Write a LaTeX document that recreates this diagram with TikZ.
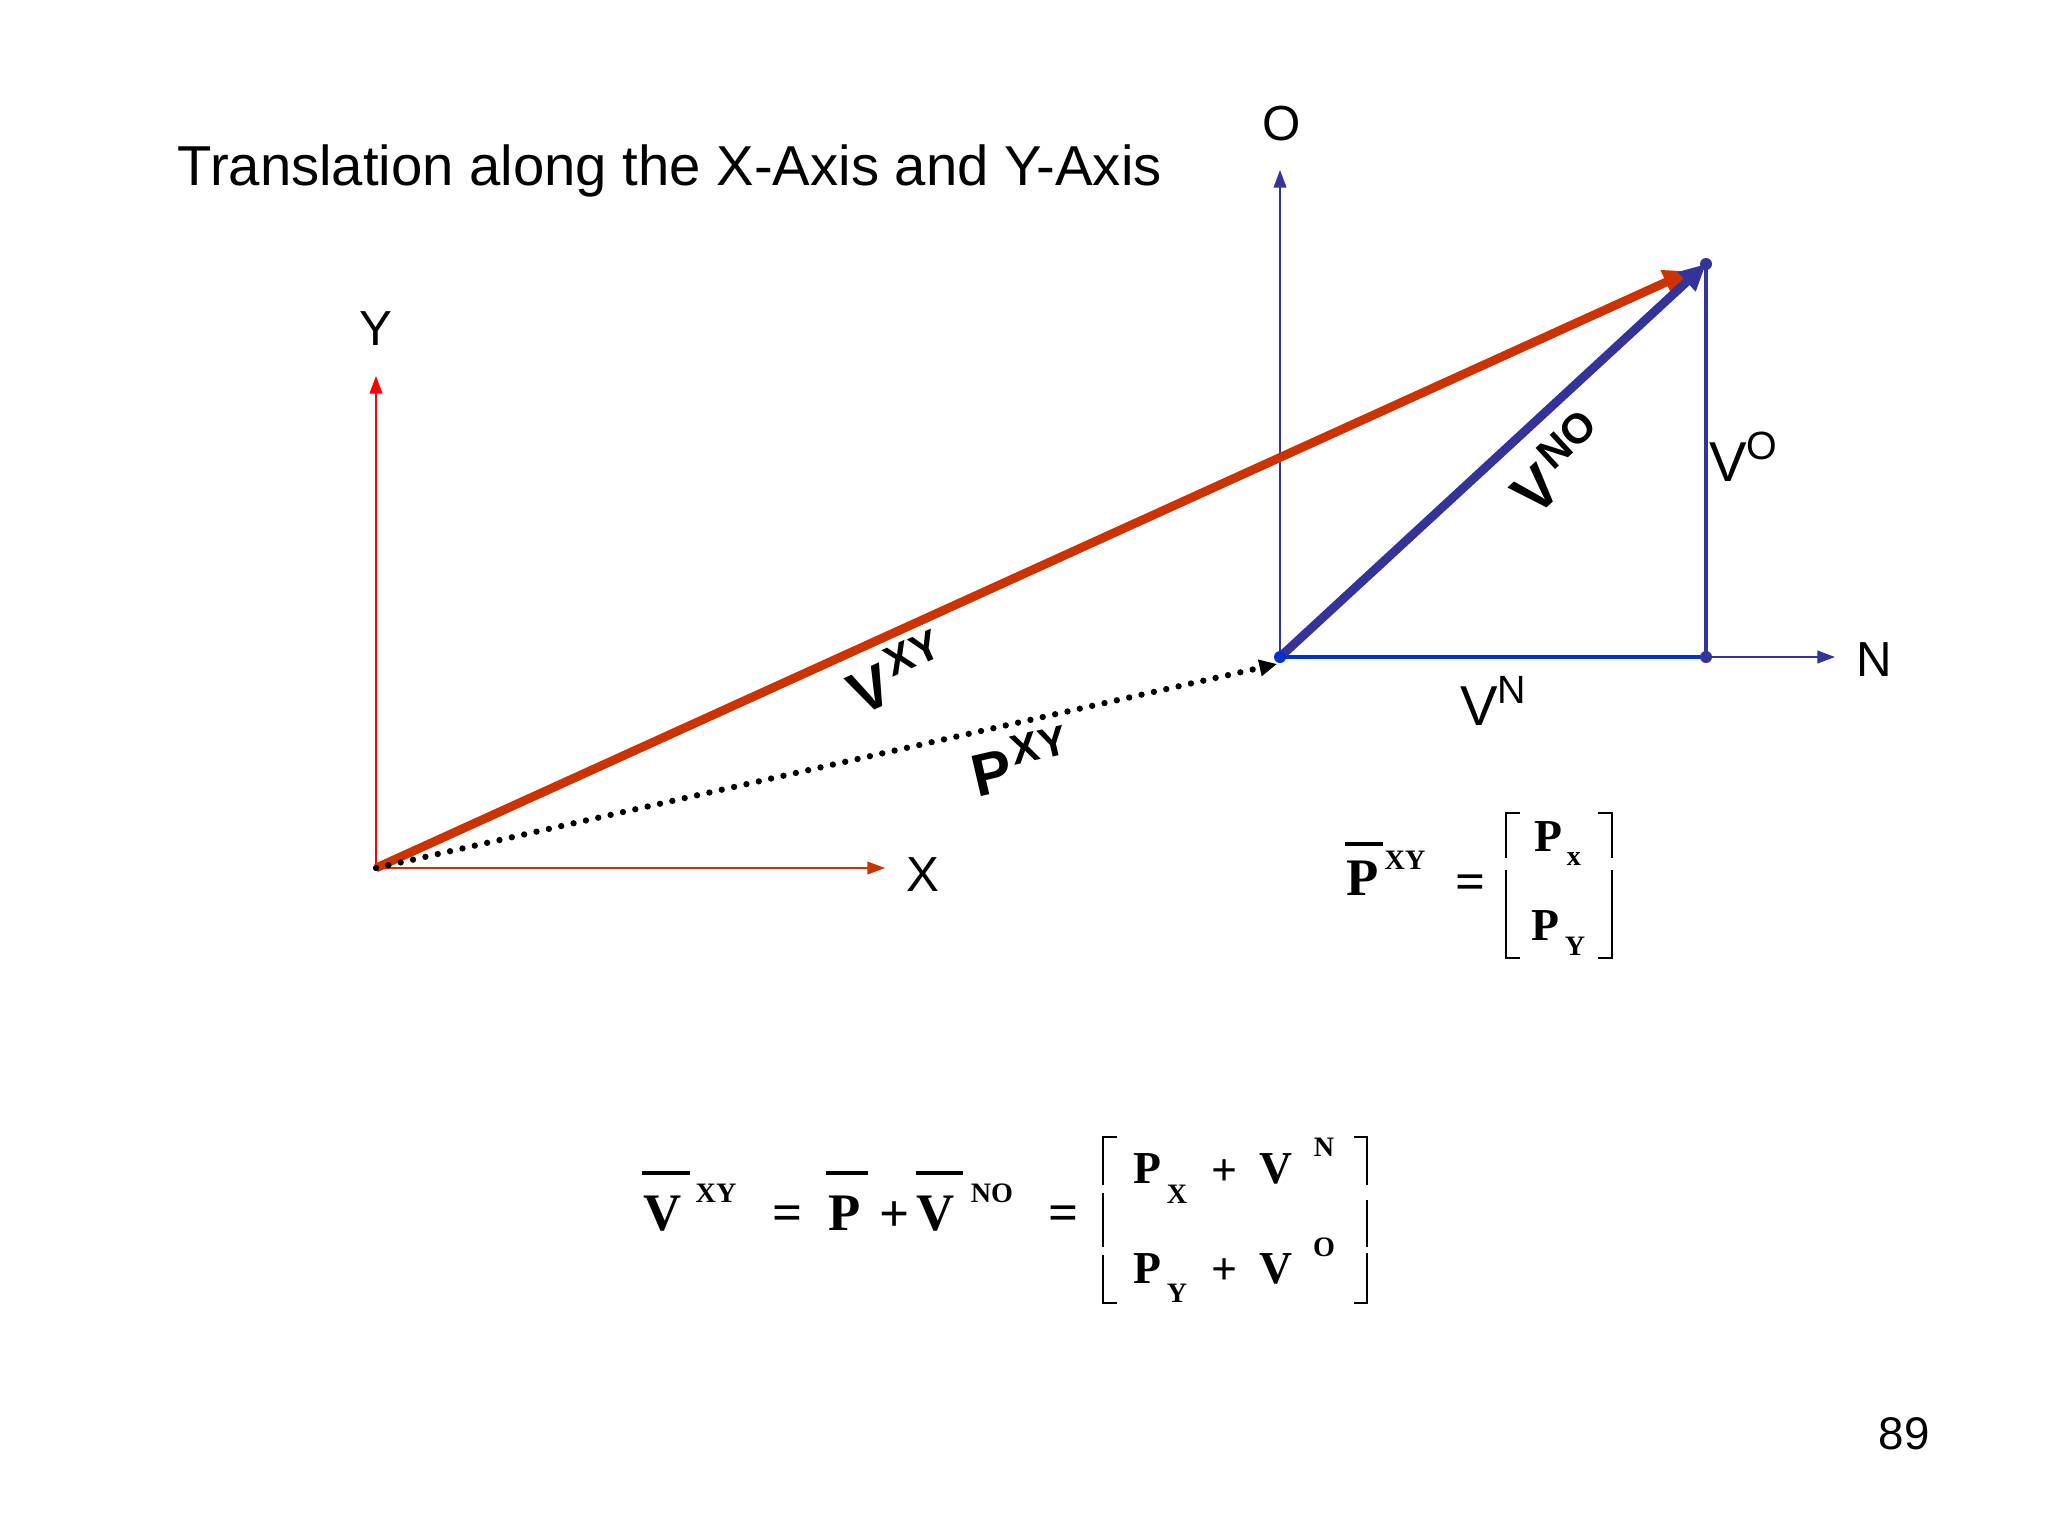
\documentclass[tikz,border=0pt]{standalone}
\usepackage{fontspec}
\setmainfont{Liberation Sans}
\newfontfamily\eqfont{Liberation Serif}
\usetikzlibrary{arrows.meta,positioning}

\definecolor{vred}{HTML}{CC3300}
\definecolor{vblue}{HTML}{333399}
\definecolor{nblue}{HTML}{0033CC}

\tikzset{
  axis/.style={line width=0.5pt, -{Triangle[length=5pt,width=3.6pt]}},
  vecarrow/.style={line width=2.5pt, -{Triangle[length=7.5pt,width=7pt]}},
  lab/.style={inner sep=0pt, font=\fontsize{14}{16}\selectfont},
  biglab/.style={inner sep=0pt, font=\fontsize{16}{19}\selectfont},
  veclab/.style={inner sep=0pt, font=\bfseries\fontsize{17}{20}\selectfont},
  eqbig/.style={inner sep=0pt, anchor=base, font=\eqfont\bfseries\fontsize{15}{18}\selectfont},
  eqrow/.style={inner sep=0pt, anchor=base, font=\eqfont\bfseries\fontsize{13}{15}\selectfont},
  eqidx/.style={inner sep=0pt, font=\eqfont\bfseries\fontsize{8}{10}\selectfont},
  bar/.style={line width=0.9pt},
  brk/.style={line width=0.7pt},
}

\begin{document}
\begin{tikzpicture}[x=0.01cm,y=-0.01cm]
  \useasboundingbox (0,0) rectangle (2048,1536);

  \node[anchor=base west, inner sep=0pt, font=\fontsize{16}{19}\selectfont] (title) at (177,185) {Translation along the X-Axis and Y-Axis};

  % XY frame
  \coordinate (oxy) at (376,868);
  \coordinate (xend) at (885,868);
  \coordinate (yend) at (376,376);
  \draw[axis, red] (oxy) -- (yend);
  \draw[axis, vred] (oxy) -- (xend);
  \node[lab] (ylab) at (376,329) {Y};
  \node[lab] (xlab) at (923,875) {X};

  % NO frame
  \coordinate (ono) at (1280,657);
  \coordinate (oend) at (1280,170);
  \coordinate (nend) at (1835,657);
  \coordinate (cn) at (1706,657);
  \coordinate (cno) at (1706,264);
  \coordinate (ptip) at (1277,664);
  \draw[axis, vblue] (ono) -- (oend);
  \draw[axis, vblue] (ono) -- (nend);
  \node[lab] (olab) at (1282,124) {O};
  \node[lab] (nlab) at (1874,660) {N};

  % components
  \draw[line width=1pt, nblue] (ono) -- (cn);
  \draw[line width=1pt, vblue] (cn) -- (cno);

  % vectors
  \draw[vecarrow, vred, shorten >=5pt] (oxy) -- (cno);
  \draw[line width=1.8pt, dash pattern=on 0pt off 3.6pt, line cap=round,
        -{Triangle[length=5pt,width=4.5pt]}] (oxy) -- (ptip);
  \draw[vecarrow, vblue] (ono) -- (cno);

  \fill[nblue] (ono) circle (6);
  \foreach \p in {cn,cno}
    \fill[vblue] (\p) circle (6);

  % labels on the vectors
  \node[veclab, rotate=24.4] (vxylab) at (897,672) {V\kern1.5pt\textsuperscript{XY}};
  \node[veclab, rotate=13.1] (pxylab) at (1021,761) {P\kern1pt\textsuperscript{XY}};
  \node[veclab, rotate=42.7] (vnolab) at (1558,462) {V\kern1.5pt\textsuperscript{NO}};
  \node[biglab] (vnlab) at (1494,701) {V\textsuperscript{N}};
  \node[biglab] (volab) at (1744,457) {V\textsuperscript{O}};

  % P^XY = [Px ; PY]
  \node[eqbig] (pa) at (1363,895) {P};
  \draw[bar] (1345,844) -- (1383,844);
  \node[eqidx] (paxy) at (1405,860) {XY};
  \node[eqbig, anchor=center] (eqa) at (1471,887) {=};
  \draw[brk] (1520,813) -- (1506,813) -- (1506,858) (1506,870) -- (1506,958) -- (1520,958);
  \draw[brk] (1598,813) -- (1612,813) -- (1612,858) (1612,870) -- (1612,958) -- (1598,958);
  \node[eqrow] (px) at (1548,851) {P};
  \node[eqidx] (pxs) at (1574,859) {x};
  \node[eqrow] (py) at (1545,940) {P};
  \node[eqidx] (pys) at (1575,946) {Y};

  % V^XY = P + V^NO = [...]
  \node[eqbig] (va) at (663,1230) {V};
  \draw[bar] (642,1173) -- (690,1173);
  \node[eqidx] (vaxy) at (716,1193) {XY};
  \node[eqbig, anchor=center] (eqb) at (788,1218) {=};
  \node[eqbig] (pb) at (845,1230) {P};
  \draw[bar] (826,1173) -- (868,1173);
  \node[eqbig, anchor=center] (plb) at (895,1217) {+};
  \node[eqbig] (vb) at (936,1230) {V};
  \draw[bar] (916,1173) -- (963,1173);
  \node[eqidx] (vbno) at (992,1193) {NO};
  \node[eqbig, anchor=center] (eqc) at (1064,1218) {=};
  \draw[brk] (1117,1137) -- (1103,1137) -- (1103,1185) (1103,1193) -- (1103,1247) (1103,1255) -- (1103,1303) -- (1117,1303);
  \draw[brk] (1354,1137) -- (1367,1137) -- (1367,1185) (1367,1200) -- (1367,1247) (1367,1253) -- (1367,1303) -- (1354,1303);
  \node[eqrow] (pr1) at (1147,1183) {P};
  \node[eqidx] (pr1s) at (1177,1194) {X};
  \node[eqrow, anchor=center] (plr1) at (1225,1173) {+};
  \node[eqrow] (vr1) at (1276,1183) {V};
  \node[eqidx] (vr1s) at (1324,1147) {N};
  \node[eqrow] (pr2) at (1147,1283) {P};
  \node[eqidx] (pr2s) at (1177,1293) {Y};
  \node[eqrow, anchor=center] (plr2) at (1225,1272) {+};
  \node[eqrow] (vr2) at (1276,1283) {V};
  \node[eqidx] (vr2s) at (1324,1247) {O};

  \node[inner sep=0pt, font=\fontsize{13}{15}\selectfont] (pg) at (1904,1434) {89};
\end{tikzpicture}
\end{document}
